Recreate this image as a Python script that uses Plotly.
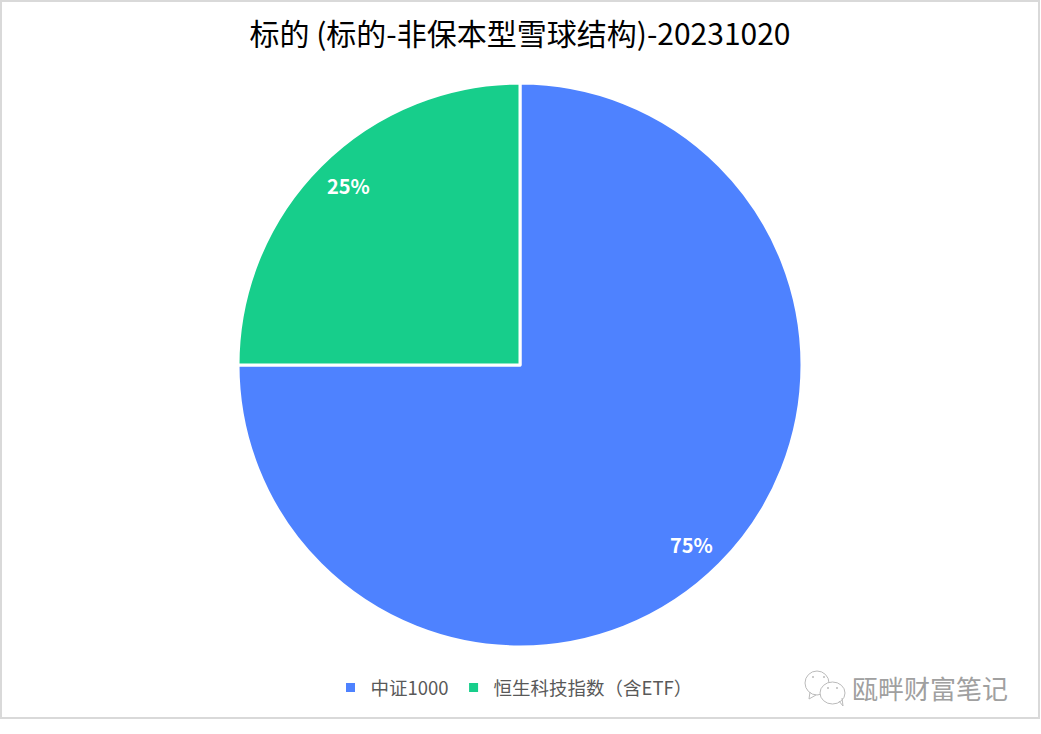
import math
import plotly.graph_objects as go

W = 1041
H = 734

title = "标的 (标的-非保本型雪球结构)-20231020"
labels = ["中证1000", "恒生科技指数（含ETF）"]
shares = [75, 25]
colors = ["#4E82FF", "#17CE8B"]
watermark = "瓯畔财富笔记"

FONT = "Noto Sans CJK SC"

# pie geometry in pixels
cx, cy, R = 520, 365, 282


def px(x):
    return x / W


def py(y):
    return 1 - y / H


fig = go.Figure()
fig.add_trace(go.Pie(
    labels=labels,
    values=shares,
    sort=False,
    direction="clockwise",
    rotation=0,
    textinfo="none",
    hoverinfo="label+percent",
    marker=dict(colors=colors, line=dict(color="white", width=3)),
    domain=dict(x=[px(cx - R), px(cx + R)], y=[py(cy + R), py(cy - R)]),
))

# percent labels sit near the rim, just clockwise of the middle of each slice
annotations = []
start = 0
for s in shares:
    mid = (start + s / 2) / sum(shares) * 2 * math.pi + math.radians(1.4)
    start += s
    annotations.append(dict(
        x=px(cx + 0.88 * R * math.sin(mid)),
        y=py(cy - 0.88 * R * math.cos(mid)),
        xref="paper", yref="paper", showarrow=False,
        xanchor="center", yanchor="middle",
        text=f"<b>{s}%</b>",
        font=dict(family=FONT, size=20, color="white"),
    ))

annotations.append(dict(
    x=px(930), y=py(687), xref="paper", yref="paper", showarrow=False,
    xanchor="center", yanchor="middle",
    text=watermark, font=dict(family=FONT, size=26, color="#a0a0a0"),
))


def dot(x, y):
    return dict(type="circle", xref="paper", yref="paper", x0=px(x - 1), x1=px(x + 1), y0=py(y + 1), y1=py(y - 1),
                line=dict(width=0), fillcolor="#BBBBBB")


def tail(path_pts):
    path = "M " + " L ".join(f"{px(x)} {py(y)}" for x, y in path_pts)
    return dict(type="path", xref="paper", yref="paper", path=path, line=dict(color="#BBBBBB", width=1))


# frame and the small chat bubbles next to the watermark
shapes = [
    dict(type="rect", xref="paper", yref="paper", x0=px(1), x1=px(1039), y0=py(718), y1=py(1),
         line=dict(color="#D9D9D9", width=2)),
    dict(type="circle", xref="paper", yref="paper", x0=px(805), x1=px(829), y0=py(695), y1=py(671),
         line=dict(color="#BBBBBB", width=1)),
    tail([(810, 692), (809, 699), (816, 695)]),
    dict(type="circle", xref="paper", yref="paper", x0=px(820), x1=px(845), y0=py(704), y1=py(682),
         line=dict(color="#BBBBBB", width=1), fillcolor="white"),
    tail([(839, 701), (843, 706), (842, 698)]),
    dot(813, 677), dot(824, 677), dot(828, 688), dot(837, 688),
]

fig.update_layout(
    width=W,
    height=H,
    margin=dict(l=0, r=0, t=0, b=0),
    paper_bgcolor="white",
    font=dict(family=FONT),
    title=dict(text=title, x=px(520), xanchor="center", y=py(34), yanchor="middle",
               font=dict(family=FONT, size=30, color="black")),
    legend=dict(orientation="h", x=px(514), xanchor="center", y=py(688), yanchor="middle",
                font=dict(family=FONT, size=18.5, color="#595959"), itemwidth=30),
    annotations=annotations,
    shapes=shapes,
)

fig.write_html("out.html", config=dict(displayModeBar=False), post_script="document.body.style.margin='0';")
